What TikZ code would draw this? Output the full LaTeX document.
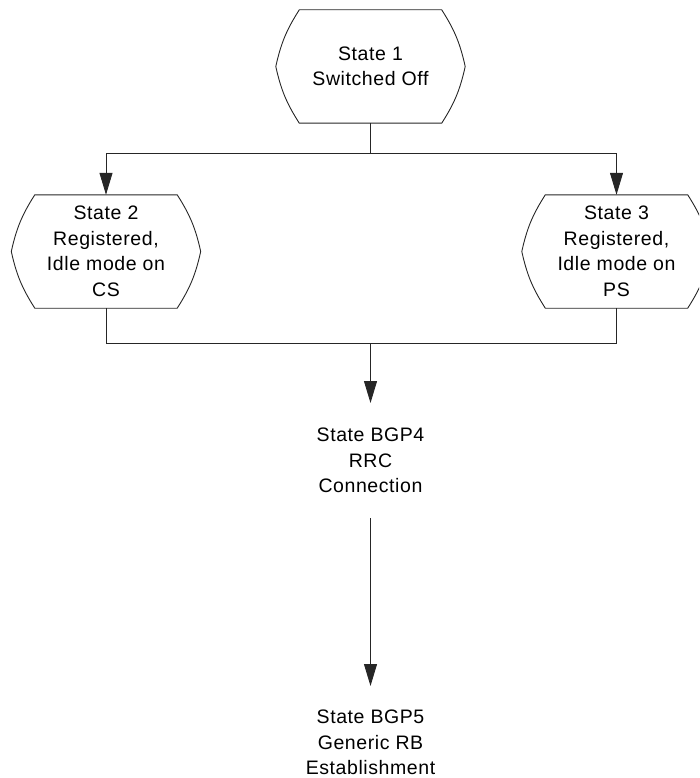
\documentclass[tikz,border=0pt]{standalone}
\usepackage{fontspec}
\usetikzlibrary{arrows.meta}
\newfontfamily\labelfont[LetterSpace=3]{Liberation Sans}

\tikzset{
  wire/.style={line width=0.9pt, draw=black!85},
  arr/.style={wire, -{Triangle[length=22pt,width=13pt]}},
  txt/.style={align=center, inner sep=0pt, text=black,
              font=\labelfont\fontsize{19.5}{25.5}\selectfont},
  statebox/.style={txt, minimum width=189pt, minimum height=113pt},
  plainstate/.style={txt, inner ysep=25pt, anchor=north},
}

% hexagon-like outline with slightly bowed sides around a state node
\newcommand\stateoutline[1]{%
  \draw[wire] ([xshift=23.5pt]#1.north west) -- ([xshift=-23.5pt]#1.north east)
    to[bend left=10] (#1.east) to[bend left=10] ([xshift=-23.5pt]#1.south east)
    -- ([xshift=23.5pt]#1.south west)
    to[bend left=10] (#1.west) to[bend left=10] ([xshift=23.5pt]#1.north west) -- cycle;}

\begin{document}
\begin{tikzpicture}[x=1pt, y=-1pt]
  \clip (0,0) rectangle (699,778);
  \useasboundingbox (0,0) rectangle (699,778);

  \node[statebox] (s1) at (370.5,66.5) {State 1\\Switched Off};
  \node[statebox] (s2) at (106,251.5) {State 2\\Registered,\\Idle mode on\\CS};
  \node[statebox] (s3) at (616.5,251.5) {State 3\\Registered,\\Idle mode on\\PS};
  \stateoutline{s1}
  \stateoutline{s2}
  \stateoutline{s3}

  \node[plainstate] (bgp4) at (370.5,403) {State BGP4\\RRC\\Connection};
  \node[plainstate, inner ysep=24pt] (bgp5) at (370.5,686) {State BGP5\\Generic RB\\Establishment};

  \coordinate (fork) at (370.5,153);
  \coordinate (join) at (370.5,343);

  \draw[wire] (s1.south) -- (fork);
  \draw[arr] (fork) -| (s2.north);
  \draw[arr] (fork) -| (s3.north);

  \draw[wire] (s2.south) |- (join);
  \draw[wire] (s3.south) |- (join);
  \draw[arr] (join) -- (bgp4);

  \draw[arr] (bgp4) -- (bgp5);
\end{tikzpicture}
\end{document}
